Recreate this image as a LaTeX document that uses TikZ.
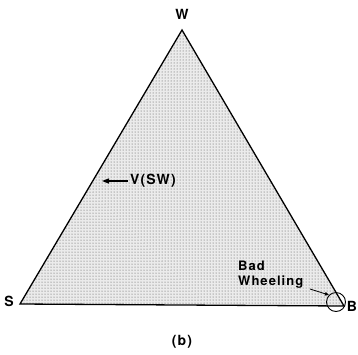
\documentclass[tikz,border=0pt]{standalone}
\usepackage{fontspec}
\setmainfont{TeX Gyre Heros}[LetterSpace=8]
\usetikzlibrary{arrows.meta,patterns}
\begin{document}
\begin{tikzpicture}[x=1pt,y=-1pt,
  lbl/.style={font=\bfseries\fontsize{14}{15}\selectfont, inner sep=0pt},
  edge/.style={line width=1.3pt, line join=miter},
  ptr/.style={line width=1.3pt, -{Triangle[length=7pt,width=5pt]}}]
\useasboundingbox (0,0) rectangle (358,354);
\coordinate (S) at (20,304);
\coordinate (W) at (182,30);
\coordinate (B) at (344,306);
\fill[black!8] (S) -- (W) -- (B) -- cycle;
\fill[pattern=dots, pattern color=black!70] (S) -- (W) -- (B) -- cycle;
\draw[edge] (S) -- (W) -- (B) -- cycle;
\node[lbl] (lW) at (182,14) {W};
\node[lbl] (lS) at (9,301) {S};
\node[lbl] (lB) at (352,306) {B};
\node[lbl, anchor=west] (vsw) at (130,181) {V(SW)};
\coordinate (vtip) at (102,181);
\draw[ptr] (vsw.west) ++(-2,0) coordinate (vstart) -- (vtip);
\node[lbl, anchor=west, align=left, font=\bfseries\fontsize{13}{15}\selectfont] (bw) at (238,274.5) {Bad\\Wheeling};
\node[draw, circle, line width=0.9pt, minimum size=19pt, inner sep=0pt] (circ) at (336,302) {};
\coordinate (bwtail) at (310,289);
\draw[line width=0.8pt, -{Triangle[length=4pt,width=3.5pt]}] (bwtail) -- (circ.north west);
\node[lbl] (cap) at (182,342) {(b)};
\end{tikzpicture}
\end{document}
